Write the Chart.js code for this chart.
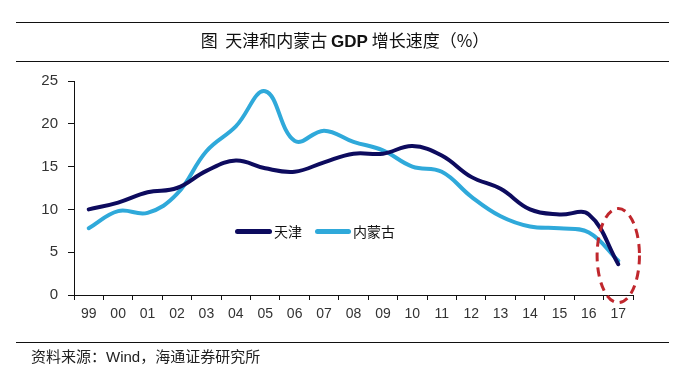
<!DOCTYPE html>
<html>
<head>
<meta charset="utf-8">
<script src="https://cdn.jsdelivr.net/npm/chart.js@4"></script>
<style>
  html, body { margin:0; padding:0; background:#fff; }
  #wrap { position:relative; width:690px; height:383px; overflow:hidden; background:#fff; }
  #cv { position:absolute; left:0; top:0; }
  .rule { position:absolute; left:16px; width:653px; height:0; border-top:1px solid #111; }
  #title { position:absolute; left:0; width:690px; top:29px; text-align:center; font-family:"Noto Sans CJK SC","Liberation Sans",sans-serif; font-size:17px; font-weight:normal; color:#111; line-height:22px; }
  #title .g { font-family:"Liberation Sans",Arial,sans-serif; font-weight:bold; }
  #footer { position:absolute; left:31px; top:346px; font-family:"Noto Sans CJK SC","Liberation Sans",sans-serif; font-size:15px; color:#222; line-height:20px; }
  #footer .w { font-family:"Liberation Sans",Arial,sans-serif; font-size:15px; }
  .leg { position:absolute; top:222px; font-family:"Noto Sans CJK SC",serif; font-size:14px; color:#111; line-height:18px; }
  .legline { position:absolute; height:5px; border-radius:3px; top:229px; }
</style>
</head>
<body>
<div id="wrap">
  <canvas id="cv" width="690" height="383"></canvas>
  <div class="rule" style="top:22px"></div>
  <div id="title">图&nbsp;&nbsp;天津和内蒙古 <span class="g">GDP</span> 增长速度（%）</div>
  <div class="rule" style="top:61px"></div>
  <div class="legline" style="left:235px;width:37px;background:#0d0b5e"></div>
  <div class="leg" style="left:274px">天津</div>
  <div class="legline" style="left:315px;width:36px;background:#2fa9da"></div>
  <div class="leg" style="left:353px">内蒙古</div>
  <div class="rule" style="top:342px"></div>
  <div id="footer">资料来源：<span class="w">Wind</span>，海通证券研究所</div>
</div>
<script>
const categories = ["99","00","01","02","03","04","05","06","07","08","09","10","11","12","13","14","15","16","17"];
const tianjin    = [10.0,10.8,12.0,12.5,14.5,15.7,14.8,14.4,15.5,16.5,16.5,17.4,16.3,13.8,12.4,10.0,9.4,9.4,3.6];
const neimenggu  = [7.8,9.8,9.6,11.8,16.8,19.7,23.8,18.0,19.2,17.9,16.9,15.0,14.4,11.5,9.2,8.0,7.8,7.3,4.0];
const yTicks     = [0,5,10,15,20,25];
const seriesNames = ["天津","内蒙古"];

const ellipsePlugin = {
  id:'ellipse',
  afterDatasetsDraw(chart){
    const x = chart.scales.x, y = chart.scales.y, ctx = chart.ctx;
    const cx = x.getPixelForValue(categories.length-1);
    const cw = x.getPixelForValue(1) - x.getPixelForValue(0);
    const cy = y.getPixelForValue(4.6);
    const ry = y.getPixelForValue(0) - y.getPixelForValue(5.5);
    ctx.save();
    ctx.beginPath();
    ctx.ellipse(cx, cy, cw*0.72, ry, 0, 0, Math.PI*2);
    ctx.setLineDash([9,6]);
    ctx.lineWidth = 3;
    ctx.strokeStyle = '#c0272d';
    ctx.stroke();
    ctx.restore();
  }
};

new Chart(document.getElementById('cv'), {
  type:'line',
  data:{
    labels:categories,
    datasets:[
      {label:seriesNames[0], data:tianjin, borderColor:'#0d0b5e', borderWidth:4, pointRadius:0, tension:0.4, fill:false, borderCapStyle:'round'},
      {label:seriesNames[1], data:neimenggu, borderColor:'#2fa9da', borderWidth:4, pointRadius:0, tension:0.4, fill:false, borderCapStyle:'round'}
    ]
  },
  options:{
    responsive:false,
    animation:false,
    layout:{padding:{left:0, right:57, top:81, bottom:0}},
    plugins:{legend:{display:false}, tooltip:{enabled:false}},
    scales:{
      x:{
        offset:true,
        grid:{display:true, offset:true, drawOnChartArea:false, drawTicks:true, tickLength:5, color:'#111', lineWidth:1},
        border:{display:true, color:'#111', width:1},
        ticks:{color:'#333', font:{family:'"Liberation Sans", Arial, sans-serif', size:14}, padding:6, maxRotation:0, autoSkip:false},
        afterFit(s){ s.height = 88; }
      },
      y:{
        min:0, max:25,
        afterBuildTicks(s){ s.ticks = yTicks.map(v=>({value:v})); },
        grid:{display:true, drawOnChartArea:false, drawTicks:true, tickLength:6, color:'#111', lineWidth:1},
        border:{display:true, color:'#111', width:1},
        ticks:{color:'#333', font:{family:'"Liberation Sans", Arial, sans-serif', size:15}, padding:10},
        afterFit(s){ s.width = 74; }
      }
    }
  },
  plugins:[ellipsePlugin]
});
</script>
</body>
</html>
